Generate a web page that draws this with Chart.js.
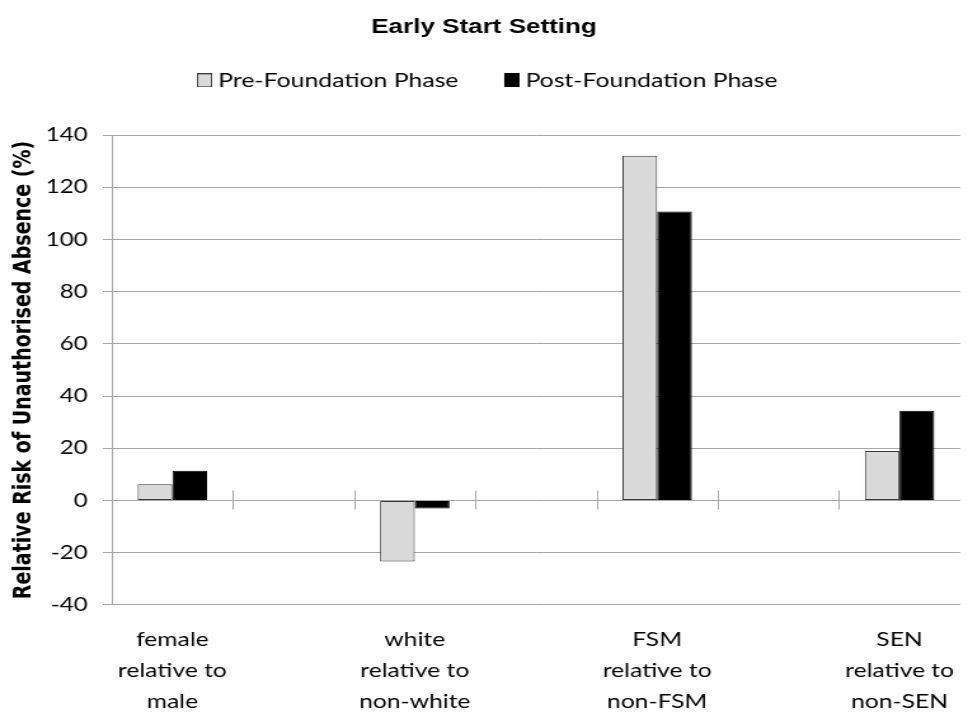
<!DOCTYPE html>
<html>
<head>
<meta charset="utf-8">
<script src="https://cdn.jsdelivr.net/npm/chart.js@4/dist/chart.umd.min.js"></script>
<style>
  html, body { margin: 0; padding: 0; background: #fff; overflow: hidden; }
  /* the figure is drawn 762px wide and shown widened to the full 968px page */
  #chart { display: block; width: 968px !important; height: 728px !important; }
</style>
</head>
<body>
<canvas id="chart" width="762" height="728" style="width:968px;height:728px"></canvas>
<script>
// Relative risk of unauthorised absence, by pupil group, before and after the Foundation Phase.
// Empty slots sit between the groups, so the groups fall on every other category.
const categories = [
  ['female', 'relative to', 'male'],
  '',
  ['white', 'relative to', 'non-white'],
  '',
  ['FSM', 'relative to', 'non-FSM'],
  '',
  ['SEN', 'relative to', 'non-SEN']
];
const preFoundation  = [6.2, null, -23.4, null, 132.1, null, 19.0];
const postFoundation = [11.4, null, -3.1, null, 110.7, null, 34.4];
const yTicks = { min: -40, max: 140, step: 20 };

const FONT = 'Lato, "Open Sans", sans-serif';
const GRID = '#a6a6a6';
const LEGEND_EXTRA = 35;   // space kept between the legend row and the plot
const Y_AXIS_WIDTH = 88;   // room for the value axis title and labels

// Legend key: a small filled square sitting close to its text
function legendKey(fill, stroke) {
  const c = document.createElement('canvas');
  c.width = 22; c.height = 14;
  const g = c.getContext('2d');
  g.fillStyle = fill;
  g.fillRect(10, 0, 12, 14);
  g.strokeStyle = stroke;
  g.lineWidth = 1;
  g.strokeRect(10.5, 0.5, 11, 13);
  return c;
}

// Short tick marks crossing the zero line at every category boundary
const zeroLineTicks = {
  id: 'zeroLineTicks',
  afterDatasetsDraw(chart) {
    const x = chart.scales.x, y = chart.scales.y;
    const y0 = y.getPixelForValue(0);
    const ctx = chart.ctx;
    ctx.save();
    ctx.strokeStyle = GRID;
    ctx.lineWidth = 1;
    for (let i = 1; i < categories.length; i++) {
      const bx = Math.round((x.getPixelForValue(i - 1) + x.getPixelForValue(i)) / 2) + 0.5;
      ctx.beginPath();
      ctx.moveTo(bx, y0 - 10);
      ctx.lineTo(bx, y0 + 9);
      ctx.stroke();
    }
    ctx.restore();
  }
};

// Adds room below the legend row
const legendSpacing = {
  id: 'legendSpacing',
  beforeUpdate(chart) {
    const lg = chart.legend;
    if (lg && !lg._spaced) {
      const fit = lg.fit;
      lg.fit = function () { fit.call(this); this.height += LEGEND_EXTRA; };
      lg._spaced = true;
    }
  }
};

new Chart(document.getElementById('chart'), {
  type: 'bar',
  data: {
    labels: categories,
    datasets: [
      {
        label: 'Pre-Foundation Phase',
        data: preFoundation,
        backgroundColor: '#d9d9d9',
        borderColor: '#3a3a3a',
        borderWidth: 1,
        borderSkipped: false,
        pointStyle: legendKey('#d9d9d9', '#3a3a3a')
      },
      {
        label: 'Post-Foundation Phase',
        data: postFoundation,
        backgroundColor: '#000000',
        borderColor: '#000000',
        borderWidth: 1,
        borderSkipped: false,
        pointStyle: legendKey('#000000', '#000000')
      }
    ]
  },
  options: {
    responsive: false,
    devicePixelRatio: 1,
    animation: false,
    layout: { padding: 0 },
    datasets: {
      bar: { categoryPercentage: 0.573, barPercentage: 1.0, skipNull: false }
    },
    plugins: {
      title: {
        display: true,
        text: 'Early Start Setting',
        color: '#000',
        font: { family: '"Liberation Sans", Arial, sans-serif', size: 20.5, weight: 'bold' },
        padding: { top: 15, bottom: 0 }
      },
      legend: {
        display: true,
        position: 'top',
        labels: {
          color: '#000',
          font: { family: FONT, size: 19.5 },
          usePointStyle: true,
          boxWidth: 12,
          boxHeight: 14,
          padding: 31
        }
      },
      tooltip: { enabled: false }
    },
    scales: {
      x: {
        grid: { display: false },
        border: { display: false },
        ticks: {
          color: '#000',
          font: { family: FONT, size: 19.4, lineHeight: 1.6 },
          padding: 11,
          maxRotation: 0,
          autoSkip: false
        }
      },
      y: {
        min: yTicks.min,
        max: yTicks.max,
        afterFit(scale) { scale.width = Y_AXIS_WIDTH; },
        grid: { color: GRID, lineWidth: 1, tickLength: 7 },
        border: { color: GRID, width: 1 },
        ticks: {
          stepSize: yTicks.step,
          color: '#000',
          font: { family: FONT, size: 19 },
          padding: 12
        },
        title: {
          display: true,
          text: 'Relative Risk of Unauthorised Absence (%)',
          color: '#000',
          font: { family: '"DejaVu Sans", sans-serif', size: 19, weight: 'bold' },
          padding: { top: 8, bottom: 1 }
        }
      }
    }
  },
  plugins: [zeroLineTicks, legendSpacing]
});
</script>
</body>
</html>
